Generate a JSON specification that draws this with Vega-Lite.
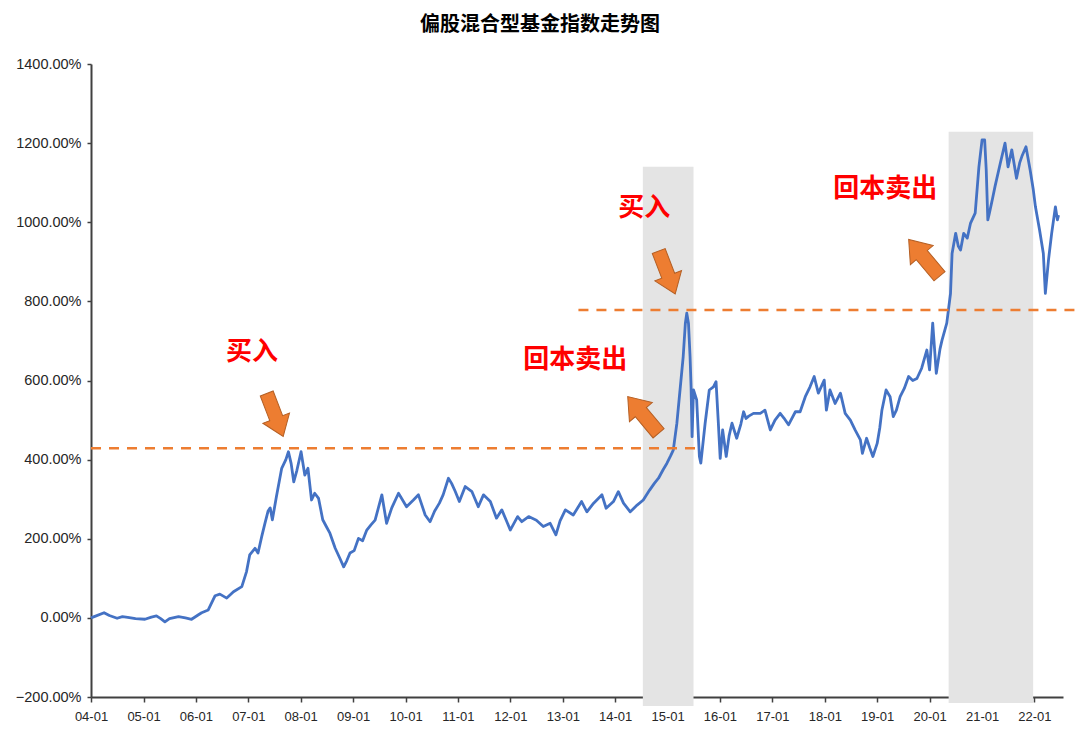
{
  "$schema": "https://vega.github.io/schema/vega-lite/v6.json",
  "width": 972,
  "height": 633,
  "autosize": {"type": "none"},
  "padding": {"left": 91, "top": 64, "right": 17, "bottom": 38},
  "background": "white",
  "title": {"text": "偏股混合型基金指数走势图", "font": "Noto Sans CJK SC", "fontSize": 20, "fontWeight": "bold", "color": "#000000", "anchor": "middle", "frame": "group", "dx": -37, "offset": 21},
  "config": {
    "view": {"stroke": null},
    "axis": {"domainColor": "#404040", "domainWidth": 2, "tickColor": "#404040", "tickWidth": 1.5, "tickSize": 5, "labelFont": "Liberation Sans", "labelFontSize": 13, "labelColor": "#262626", "grid": false, "zindex": 1, "labelPadding": 7}
  },
  "datasets": {
    "series": [
      {"d":"2004-01-01","v":0},{"d":"2004-02-06","v":5},{"d":"2004-04-01","v":13},{"d":"2004-05-08","v":6},{"d":"2004-07-01","v":-1},{"d":"2004-08-07","v":3},{"d":"2004-09-13","v":1.5},{"d":"2004-11-06","v":-2},
      {"d":"2005-01-11","v":-3.5},{"d":"2005-02-25","v":2},{"d":"2005-04-01","v":5},{"d":"2005-05-01","v":-2},{"d":"2005-05-30","v":-10},{"d":"2005-07-01","v":-2},{"d":"2005-09-02","v":3},{"d":"2005-10-20","v":0},{"d":"2005-12-02","v":-3.5},
      {"d":"2006-01-19","v":8},{"d":"2006-02-10","v":13},{"d":"2006-03-28","v":20},{"d":"2006-05-15","v":56},{"d":"2006-06-17","v":60},{"d":"2006-08-04","v":50},{"d":"2006-09-20","v":66},{"d":"2006-11-17","v":79},{"d":"2006-12-20","v":117},
      {"d":"2007-01-11","v":159},{"d":"2007-02-17","v":176},{"d":"2007-03-10","v":164},{"d":"2007-04-05","v":206},{"d":"2007-04-28","v":240},{"d":"2007-05-19","v":270},{"d":"2007-06-03","v":278},{"d":"2007-06-18","v":248},{"d":"2007-07-16","v":306},{"d":"2007-08-22","v":378},{"d":"2007-09-20","v":400},{"d":"2007-10-08","v":420},{"d":"2007-10-27","v":390},{"d":"2007-11-14","v":344},{"d":"2007-12-06","v":373},
      {"d":"2008-01-04","v":420},{"d":"2008-01-30","v":361},{"d":"2008-02-21","v":378},{"d":"2008-03-17","v":298},{"d":"2008-04-08","v":315},{"d":"2008-05-05","v":302},{"d":"2008-06-03","v":248},{"d":"2008-06-28","v":231},{"d":"2008-07-23","v":214},{"d":"2008-08-29","v":176},{"d":"2008-10-01","v":150},{"d":"2008-10-27","v":129},{"d":"2008-11-18","v":145},{"d":"2008-12-10","v":164},
      {"d":"2009-01-08","v":170},{"d":"2009-02-07","v":201},{"d":"2009-03-08","v":195},{"d":"2009-04-06","v":222},{"d":"2009-05-05","v":235},{"d":"2009-06-03","v":247},{"d":"2009-07-20","v":311},{"d":"2009-08-22","v":239},{"d":"2009-09-27","v":278},{"d":"2009-11-13","v":315},{"d":"2009-12-05","v":302},
      {"d":"2010-01-08","v":281},{"d":"2010-02-25","v":298},{"d":"2010-04-01","v":311},{"d":"2010-05-18","v":260},{"d":"2010-06-21","v":243},{"d":"2010-07-23","v":270},{"d":"2010-08-25","v":290},{"d":"2010-09-20","v":311},{"d":"2010-10-27","v":353},{"d":"2010-11-18","v":340},{"d":"2010-12-13","v":320},
      {"d":"2011-01-11","v":294},{"d":"2011-02-21","v":332},{"d":"2011-04-09","v":319},{"d":"2011-05-23","v":281},{"d":"2011-06-28","v":311},{"d":"2011-08-15","v":294},{"d":"2011-09-27","v":252},{"d":"2011-11-03","v":273},{"d":"2011-12-06","v":245},
      {"d":"2012-01-01","v":222},{"d":"2012-02-21","v":256},{"d":"2012-03-21","v":243},{"d":"2012-05-08","v":256},{"d":"2012-07-01","v":247},{"d":"2012-08-18","v":231},{"d":"2012-10-05","v":239},{"d":"2012-11-14","v":210},{"d":"2012-12-13","v":245},
      {"d":"2013-01-19","v":273},{"d":"2013-03-15","v":260},{"d":"2013-05-12","v":294},{"d":"2013-06-18","v":268},{"d":"2013-08-04","v":290},{"d":"2013-10-01","v":311},{"d":"2013-10-30","v":277},{"d":"2013-12-20","v":294},
      {"d":"2014-01-23","v":319},{"d":"2014-02-28","v":290},{"d":"2014-04-16","v":268},{"d":"2014-06-03","v":285},{"d":"2014-07-16","v":298},{"d":"2014-08-29","v":323},{"d":"2014-10-01","v":340},{"d":"2014-10-30","v":353},{"d":"2014-12-02","v":375},{"d":"2014-12-28","v":391},
      {"d":"2015-01-23","v":410},{"d":"2015-02-10","v":424},{"d":"2015-03-07","v":492},{"d":"2015-03-29","v":576},{"d":"2015-04-20","v":660},{"d":"2015-05-05","v":744},{"d":"2015-05-15","v":770},{"d":"2015-05-27","v":744},{"d":"2015-06-07","v":660},{"d":"2015-06-14","v":584},{"d":"2015-06-21","v":458},{"d":"2015-07-01","v":576},{"d":"2015-07-23","v":551},{"d":"2015-08-11","v":408},{"d":"2015-08-21","v":391},{"d":"2015-09-20","v":492},{"d":"2015-10-19","v":576},{"d":"2015-11-17","v":584},{"d":"2015-12-05","v":597},{"d":"2015-12-20","v":500},
      {"d":"2016-01-03","v":403},{"d":"2016-01-20","v":475},{"d":"2016-02-14","v":408},{"d":"2016-03-05","v":460},{"d":"2016-03-25","v":492},{"d":"2016-04-27","v":454},{"d":"2016-05-26","v":490},{"d":"2016-06-14","v":521},{"d":"2016-07-01","v":504},{"d":"2016-07-20","v":510},{"d":"2016-08-22","v":517},{"d":"2016-10-08","v":517},{"d":"2016-11-10","v":525},{"d":"2016-12-17","v":475},
      {"d":"2017-01-19","v":500},{"d":"2017-02-24","v":517},{"d":"2017-03-22","v":505},{"d":"2017-04-23","v":488},{"d":"2017-06-10","v":521},{"d":"2017-07-13","v":521},{"d":"2017-08-18","v":559},{"d":"2017-09-20","v":584},{"d":"2017-10-19","v":610},{"d":"2017-11-17","v":568},{"d":"2017-12-28","v":601},
      {"d":"2018-01-12","v":525},{"d":"2018-02-06","v":576},{"d":"2018-03-14","v":542},{"d":"2018-04-20","v":568},{"d":"2018-05-23","v":517},{"d":"2018-06-28","v":500},{"d":"2018-07-31","v":475},{"d":"2018-09-06","v":450},{"d":"2018-09-20","v":416},{"d":"2018-10-19","v":454},{"d":"2018-11-10","v":430},{"d":"2018-12-02","v":408},
      {"d":"2019-01-01","v":441},{"d":"2019-01-19","v":480},{"d":"2019-02-03","v":525},{"d":"2019-03-04","v":576},{"d":"2019-04-01","v":559},{"d":"2019-04-23","v":509},{"d":"2019-05-15","v":525},{"d":"2019-06-10","v":559},{"d":"2019-07-09","v":580},{"d":"2019-08-08","v":610},{"d":"2019-09-06","v":600},{"d":"2019-10-05","v":605},{"d":"2019-11-07","v":631},{"d":"2019-12-13","v":677},
      {"d":"2020-01-01","v":627},{"d":"2020-01-23","v":745},{"d":"2020-02-17","v":618},{"d":"2020-03-14","v":680},{"d":"2020-03-28","v":702},{"d":"2020-04-30","v":745},{"d":"2020-05-26","v":820},{"d":"2020-06-06","v":921},{"d":"2020-07-01","v":972},{"d":"2020-07-19","v":940},{"d":"2020-08-04","v":930},{"d":"2020-08-26","v":972},{"d":"2020-09-20","v":960},{"d":"2020-10-12","v":997},{"d":"2020-11-14","v":1023},{"d":"2020-12-10","v":1140},
      {"d":"2021-01-01","v":1208},{"d":"2021-01-19","v":1208},{"d":"2021-01-30","v":1132},{"d":"2021-02-10","v":1006},{"d":"2021-02-21","v":1023},{"d":"2021-03-15","v":1060},{"d":"2021-04-01","v":1090},{"d":"2021-05-08","v":1149},{"d":"2021-06-10","v":1200},{"d":"2021-07-01","v":1140},{"d":"2021-07-27","v":1183},{"d":"2021-08-29","v":1111},{"d":"2021-09-20","v":1150},{"d":"2021-10-05","v":1166},{"d":"2021-11-03","v":1191},{"d":"2021-12-02","v":1132},{"d":"2021-12-24","v":1082},
      {"d":"2022-01-08","v":1039},{"d":"2022-02-06","v":980},{"d":"2022-03-04","v":921},{"d":"2022-03-18","v":820},{"d":"2022-04-09","v":905},{"d":"2022-05-01","v":972},{"d":"2022-05-27","v":1039},{"d":"2022-06-10","v":1006},{"d":"2022-06-18","v":1018}
    ],
    "bands": [
      {"s":"2014-07-13","e":"2015-07-01","top":1140,"bot":-223},
      {"s":"2020-05-13","e":"2021-12-23","top":1229,"bot":-215}
    ],
    "refs": [
      {"s":"2004-01-01","e":"2015-08-26","v":429},
      {"s":"2013-04-20","e":"2022-10-12","v":778}
    ],
    "labels": [
      {"d":"2007-01-27","v":672,"t":"买入"},
      {"d":"2014-07-22","v":1036,"t":"买入"},
      {"d":"2013-03-28","v":652,"t":"回本卖出"},
      {"d":"2019-02-26","v":1084,"t":"回本卖出"}
    ],
    "arrows": [
      {"d":"2007-07-06","v":513,"dir":"down"},
      {"d":"2014-12-28","v":873,"dir":"down"},
      {"d":"2014-07-15","v":513,"dir":"up"},
      {"d":"2019-11-24","v":910,"dir":"up"}
    ]
  },
  "layer": [
    {
      "data": {"name": "bands"},
      "mark": {"type": "rect", "color": "#E4E4E4"},
      "encoding": {
        "x": {"field": "s", "type": "temporal", "title": null,
          "scale": {"type": "utc", "nice": false, "domain": [{"year":2004,"month":1,"date":1,"utc":true},{"year":2022,"month":7,"date":19,"utc":true}]},
          "axis": {"values": [
            {"year":2004,"month":1,"date":1,"utc":true},{"year":2005,"month":1,"date":1,"utc":true},{"year":2006,"month":1,"date":1,"utc":true},{"year":2007,"month":1,"date":1,"utc":true},{"year":2008,"month":1,"date":1,"utc":true},{"year":2009,"month":1,"date":1,"utc":true},{"year":2010,"month":1,"date":1,"utc":true},{"year":2011,"month":1,"date":1,"utc":true},{"year":2012,"month":1,"date":1,"utc":true},{"year":2013,"month":1,"date":1,"utc":true},{"year":2014,"month":1,"date":1,"utc":true},{"year":2015,"month":1,"date":1,"utc":true},{"year":2016,"month":1,"date":1,"utc":true},{"year":2017,"month":1,"date":1,"utc":true},{"year":2018,"month":1,"date":1,"utc":true},{"year":2019,"month":1,"date":1,"utc":true},{"year":2020,"month":1,"date":1,"utc":true},{"year":2021,"month":1,"date":1,"utc":true},{"year":2022,"month":1,"date":1,"utc":true}
          ], "labelExpr": "utcFormat(datum.value, '%y-%m')", "labelFlush": false, "labelOverlap": false, "labelPadding": 8}},
        "x2": {"field": "e"},
        "y": {"field": "top", "type": "quantitative", "title": null,
          "scale": {"domain": [-200, 1400], "nice": false, "zero": false},
          "axis": {"values": [-200, 0, 200, 400, 600, 800, 1000, 1200, 1400], "labelExpr": "format(datum.value, '.2f') + '%'", "tickSize": 4, "labelFontSize": 14.5, "labelPadding": 6}},
        "y2": {"field": "bot"}
      }
    },
    {
      "data": {"name": "series"},
      "mark": {"type": "line", "color": "#4472C4", "strokeWidth": 2.8, "strokeJoin": "round"},
      "encoding": {
        "x": {"field": "d", "type": "temporal", "title": null},
        "y": {"field": "v", "type": "quantitative", "title": null}
      }
    },
    {
      "data": {"name": "refs"},
      "mark": {"type": "rule", "color": "#ED7D31", "strokeWidth": 2.5, "strokeDash": [10, 8]},
      "encoding": {
        "x": {"field": "s", "type": "temporal", "title": null},
        "x2": {"field": "e"},
        "y": {"field": "v", "type": "quantitative", "title": null}
      }
    },
    {
      "data": {"name": "labels"},
      "mark": {"type": "text", "font": "Noto Sans CJK SC", "fontWeight": "bold", "fontSize": 26, "color": "#FF0000", "align": "center", "baseline": "middle"},
      "encoding": {
        "x": {"field": "d", "type": "temporal", "title": null},
        "y": {"field": "v", "type": "quantitative", "title": null},
        "text": {"field": "t"}
      }
    },
    {
      "data": {"name": "arrows"},
      "transform": [{"filter": "datum.dir === 'down'"}],
      "mark": {"type": "point", "filled": true, "color": "#ED7D31", "stroke": "#B45F24", "strokeWidth": 1, "opacity": 1, "size": 2116, "angle": 339,
        "shape": "M-0.3,-1 L0.3,-1 L0.3,0.15 L0.62,0.15 L0,1 L-0.62,0.15 L-0.3,0.15 Z"},
      "encoding": {
        "x": {"field": "d", "type": "temporal", "title": null},
        "y": {"field": "v", "type": "quantitative", "title": null}
      }
    },
    {
      "data": {"name": "arrows"},
      "transform": [{"filter": "datum.dir === 'up'"}],
      "mark": {"type": "point", "filled": true, "color": "#ED7D31", "stroke": "#B45F24", "strokeWidth": 1, "opacity": 1, "size": 2304, "angle": 140,
        "shape": "M-0.3,-1 L0.3,-1 L0.3,0.15 L0.62,0.15 L0,1 L-0.62,0.15 L-0.3,0.15 Z"},
      "encoding": {
        "x": {"field": "d", "type": "temporal", "title": null},
        "y": {"field": "v", "type": "quantitative", "title": null}
      }
    }
  ]
}
